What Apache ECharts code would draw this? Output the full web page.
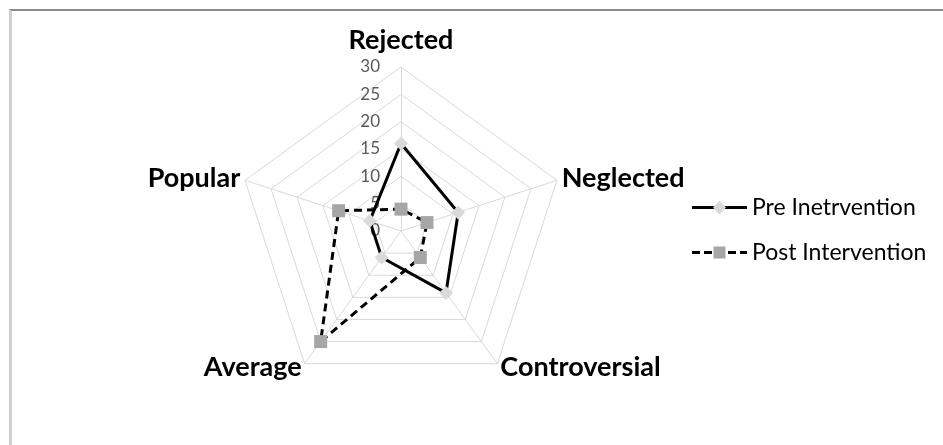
<!DOCTYPE html>
<html>
<head>
<meta charset="utf-8">
<script src="https://cdn.jsdelivr.net/npm/echarts@6/dist/echarts.min.js"></script>
<style>
html,body{margin:0;padding:0;background:#fff;}
#frame{position:absolute;left:9px;top:9px;width:960px;height:460px;border-top:2px solid #8a8a8a;border-left:3px solid #d0d0d0;}
#chart{position:absolute;left:0;top:0;width:943px;height:445px;}
</style>
</head>
<body>
<div id="frame"></div>
<div id="chart"></div>
<script>
const categories = ['Rejected', 'Neglected', 'Controversial', 'Average', 'Popular'];
const preIntervention = [16, 11, 14, 6, 6];
const postIntervention = [4, 5, 6, 25, 12];
const seriesNames = ['Pre Inetrvention', 'Post Intervention'];
const axisMax = 30;
const axisStep = 5;

// ECharts lays radar indicators counter-clockwise; the reference goes clockwise.
const order = [0, 4, 3, 2, 1];
const reorder = arr => order.map(i => arr[i]);

const FONT = 'Lato';
const LINE_PRE = 'path://M0,0h55v3h-55Z';
const LINE_POST = 'path://M0,0h8v3h-8Z M12,0h8v3h-8Z M24,0h8v3h-8Z M36,0h8v3h-8Z M48,0h7v3h-7Z';
// tiny corner dots keep the bounding box full width so the marker sits in the middle
const MARK_PRE = 'path://M0,7h0.05v0.05h-0.05Z M27.5,0L34,7L27.5,14L21,7Z M54.95,7h0.05v0.05h-0.05Z';
const MARK_POST = 'path://M0,7h0.05v0.05h-0.05Z M21.5,1h12v12h-12Z M54.95,7h0.05v0.05h-0.05Z';

const legendBase = {
  orient: 'vertical',
  left: 687,
  top: 191,
  itemWidth: 55,
  itemHeight: 14,
  itemGap: 22,
  selectedMode: false
};

const chart = echarts.init(document.getElementById('chart'), null, {renderer: 'canvas'});
chart.setOption({
  animation: false,
  backgroundColor: 'transparent',
  legend: [
    Object.assign({}, legendBase, {
      data: [
        {name: seriesNames[0], icon: LINE_PRE, itemStyle: {color: '#000'}},
        {name: seriesNames[1], icon: LINE_POST, itemStyle: {color: '#000'}}
      ],
      textStyle: {fontFamily: FONT, fontSize: 23, color: '#000'}
    }),
    Object.assign({}, legendBase, {
      data: [
        {name: seriesNames[0], icon: MARK_PRE, itemStyle: {color: '#d9d9d9'}},
        {name: seriesNames[1], icon: MARK_POST, itemStyle: {color: '#a6a6a6'}}
      ],
      textStyle: {fontFamily: FONT, fontSize: 23, color: 'rgba(0,0,0,0)'}
    })
  ],
  radar: {
    center: [401, 231],
    radius: 164,
    shape: 'polygon',
    splitNumber: axisMax / axisStep,
    axisName: {color: '#000', fontFamily: FONT, fontWeight: 'bold', fontSize: 27},
    nameGap: 5,
    axisLine: {lineStyle: {color: '#d9d9d9', width: 1}},
    splitLine: {lineStyle: {color: '#d9d9d9', width: 1}},
    splitArea: {show: false},
    axisLabel: {show: true, color: '#595959', fontFamily: FONT, fontSize: 17, margin: 21},
    indicator: reorder(categories).map((c, i) => ({
      name: c, min: 0, max: axisMax,
      nameGap: i === 0 ? 13 : 5,
      axisLabel: {show: i === 0}
    }))
  },
  series: [{
    type: 'radar',
    data: [
      {
        name: seriesNames[0], value: reorder(preIntervention),
        symbol: 'diamond', symbolSize: 14,
        lineStyle: {color: '#000', width: 3, type: 'solid'},
        itemStyle: {color: '#dadada', borderWidth: 0}
      },
      {
        name: seriesNames[1], value: reorder(postIntervention),
        symbol: 'rect', symbolSize: 13,
        lineStyle: {color: '#000', width: 3, type: [8, 5]},
        itemStyle: {color: '#a6a6a6', borderWidth: 0}
      }
    ]
  }]
});
</script>
</body>
</html>
